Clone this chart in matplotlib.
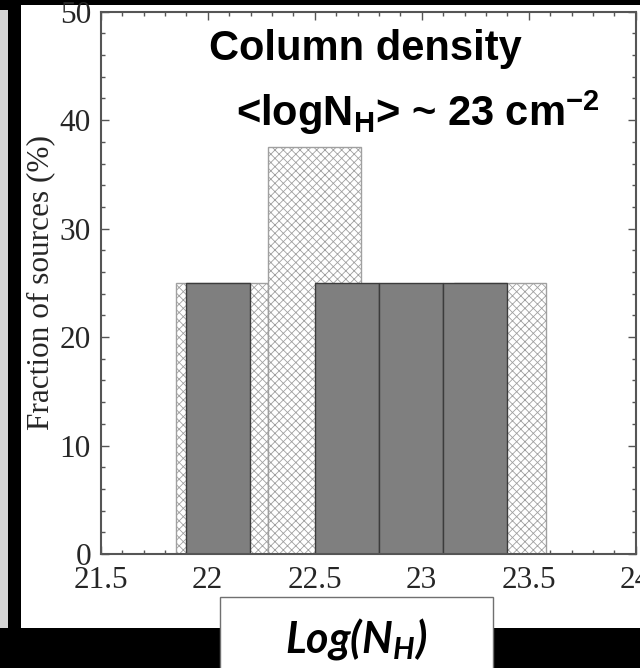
import matplotlib
matplotlib.use('Agg')
import matplotlib.pyplot as plt
from matplotlib.patches import Rectangle
from matplotlib.ticker import MultipleLocator

# ---- data ----
hatch_edges = [21.85, 22.283, 22.717, 23.15, 23.583]
hatch_pct = [25, 37.5, 12.5, 25]
solid_edges = [21.9, 22.2, 22.5, 22.8, 23.1, 23.4]
solid_pct = [25, 0, 25, 25, 25]

x_ticks = [21.5, 22, 22.5, 23, 23.5, 24]
x_tick_labels = ['21.5', '22', '22.5', '23', '23.5', '24']
y_ticks = [0, 10, 20, 30, 40, 50]
y_tick_labels = ['0', '10', '20', '30', '40', '50']

plt.rcParams['mathtext.fontset'] = 'custom'
plt.rcParams['mathtext.rm'] = 'Liberation Sans:bold'
plt.rcParams['mathtext.bf'] = 'Liberation Sans:bold'
plt.rcParams['mathtext.it'] = 'Lato:italic:bold'
plt.rcParams['hatch.linewidth'] = 0.6

W, H = 640, 668
fig = plt.figure(figsize=(6.4, 6.68), dpi=100, facecolor='black')


def fx(px):
    return px / W


def fy(py):
    return 1 - py / H


def frect(x0, y0, x1, y1, **kw):
    r = Rectangle((fx(x0), fy(y1)), fx(x1) - fx(x0), fy(y0) - fy(y1),
                  transform=fig.transFigure, **kw)
    fig.patches.append(r)
    return r


# white panel and left strip
frect(21, 5, 640, 628, facecolor='white', edgecolor='none', zorder=0)
frect(0, 10, 8, 628, facecolor='#d6d6d6', edgecolor='none', zorder=0)

ax = fig.add_axes([fx(100.7), fy(554), fx(635.7) - fx(100.7), fy(11.7) - fy(554)])
ax.set_zorder(2)
ax.set_facecolor('white')

hw = [b - a for a, b in zip(hatch_edges[:-1], hatch_edges[1:])]
ax.bar(hatch_edges[:-1], hatch_pct, width=hw, align='edge', facecolor='white',
       edgecolor='#a0a0a0', hatch='xxxx', linewidth=1.0, zorder=2)
sw = [b - a for a, b in zip(solid_edges[:-1], solid_edges[1:])]
ax.bar(solid_edges[:-1], solid_pct, width=sw, align='edge', facecolor='#7f7f7f',
       edgecolor='#3c3c3c', linewidth=1.0, zorder=3)

ax.set_xlim(21.5, 24)
ax.set_ylim(0, 50)
ax.set_xticks(x_ticks)
ax.set_xticklabels(x_tick_labels)
ax.set_yticks(y_ticks)
ax.set_yticklabels(y_tick_labels)
ax.xaxis.set_minor_locator(MultipleLocator(0.1))
ax.yaxis.set_minor_locator(MultipleLocator(2))

serif = ['Liberation Serif', 'DejaVu Serif']
for lab in ax.get_xticklabels() + ax.get_yticklabels():
    lab.set_family(serif)
    lab.set_fontsize(22.5)
    lab.set_color('#262626')

ax.tick_params(which='both', direction='in', top=True, right=True,
               color='#555555', width=1.0)
ax.tick_params(which='major', length=6)
ax.tick_params(which='minor', length=3)
ax.tick_params(axis='x', pad=9)
ax.tick_params(axis='y', pad=7)
for s in ax.spines.values():
    s.set_color('#555555')
    s.set_linewidth(1.5)
    s.set_zorder(5)

ax.set_ylabel('Fraction of sources (%)', family=serif, fontsize=22.5,
              color='#262626', labelpad=3)

# annotation
txt_font = ['Liberation Sans', 'DejaVu Sans']
t1 = fig.text(fx(365.5), fy(60), 'Column density', ha='center', va='baseline',
              family=txt_font, fontweight='bold', fontsize=30, color='black')
t2 = fig.text(fx(236), fy(126), r'<logN$_\mathrm{H}$> ~ 23 cm$^\mathrm{-2}$',
              ha='left', va='baseline', family=txt_font, fontweight='bold',
              fontsize=30, color='black')
t1.set_zorder(10)
t2.set_zorder(10)

# bottom label box
frect(220, 597, 493, 670, facecolor='white', edgecolor='#707070', linewidth=1.0, zorder=6)
fig.text(fx(356.5), fy(653), r'Log(N$_\mathit{H}$)', ha='center', va='baseline',
         family=['Lato', 'DejaVu Sans'], fontweight='bold', style='italic',
         fontsize=31, color='black', zorder=7)

fig.savefig('out.png', dpi=100, facecolor='black')
